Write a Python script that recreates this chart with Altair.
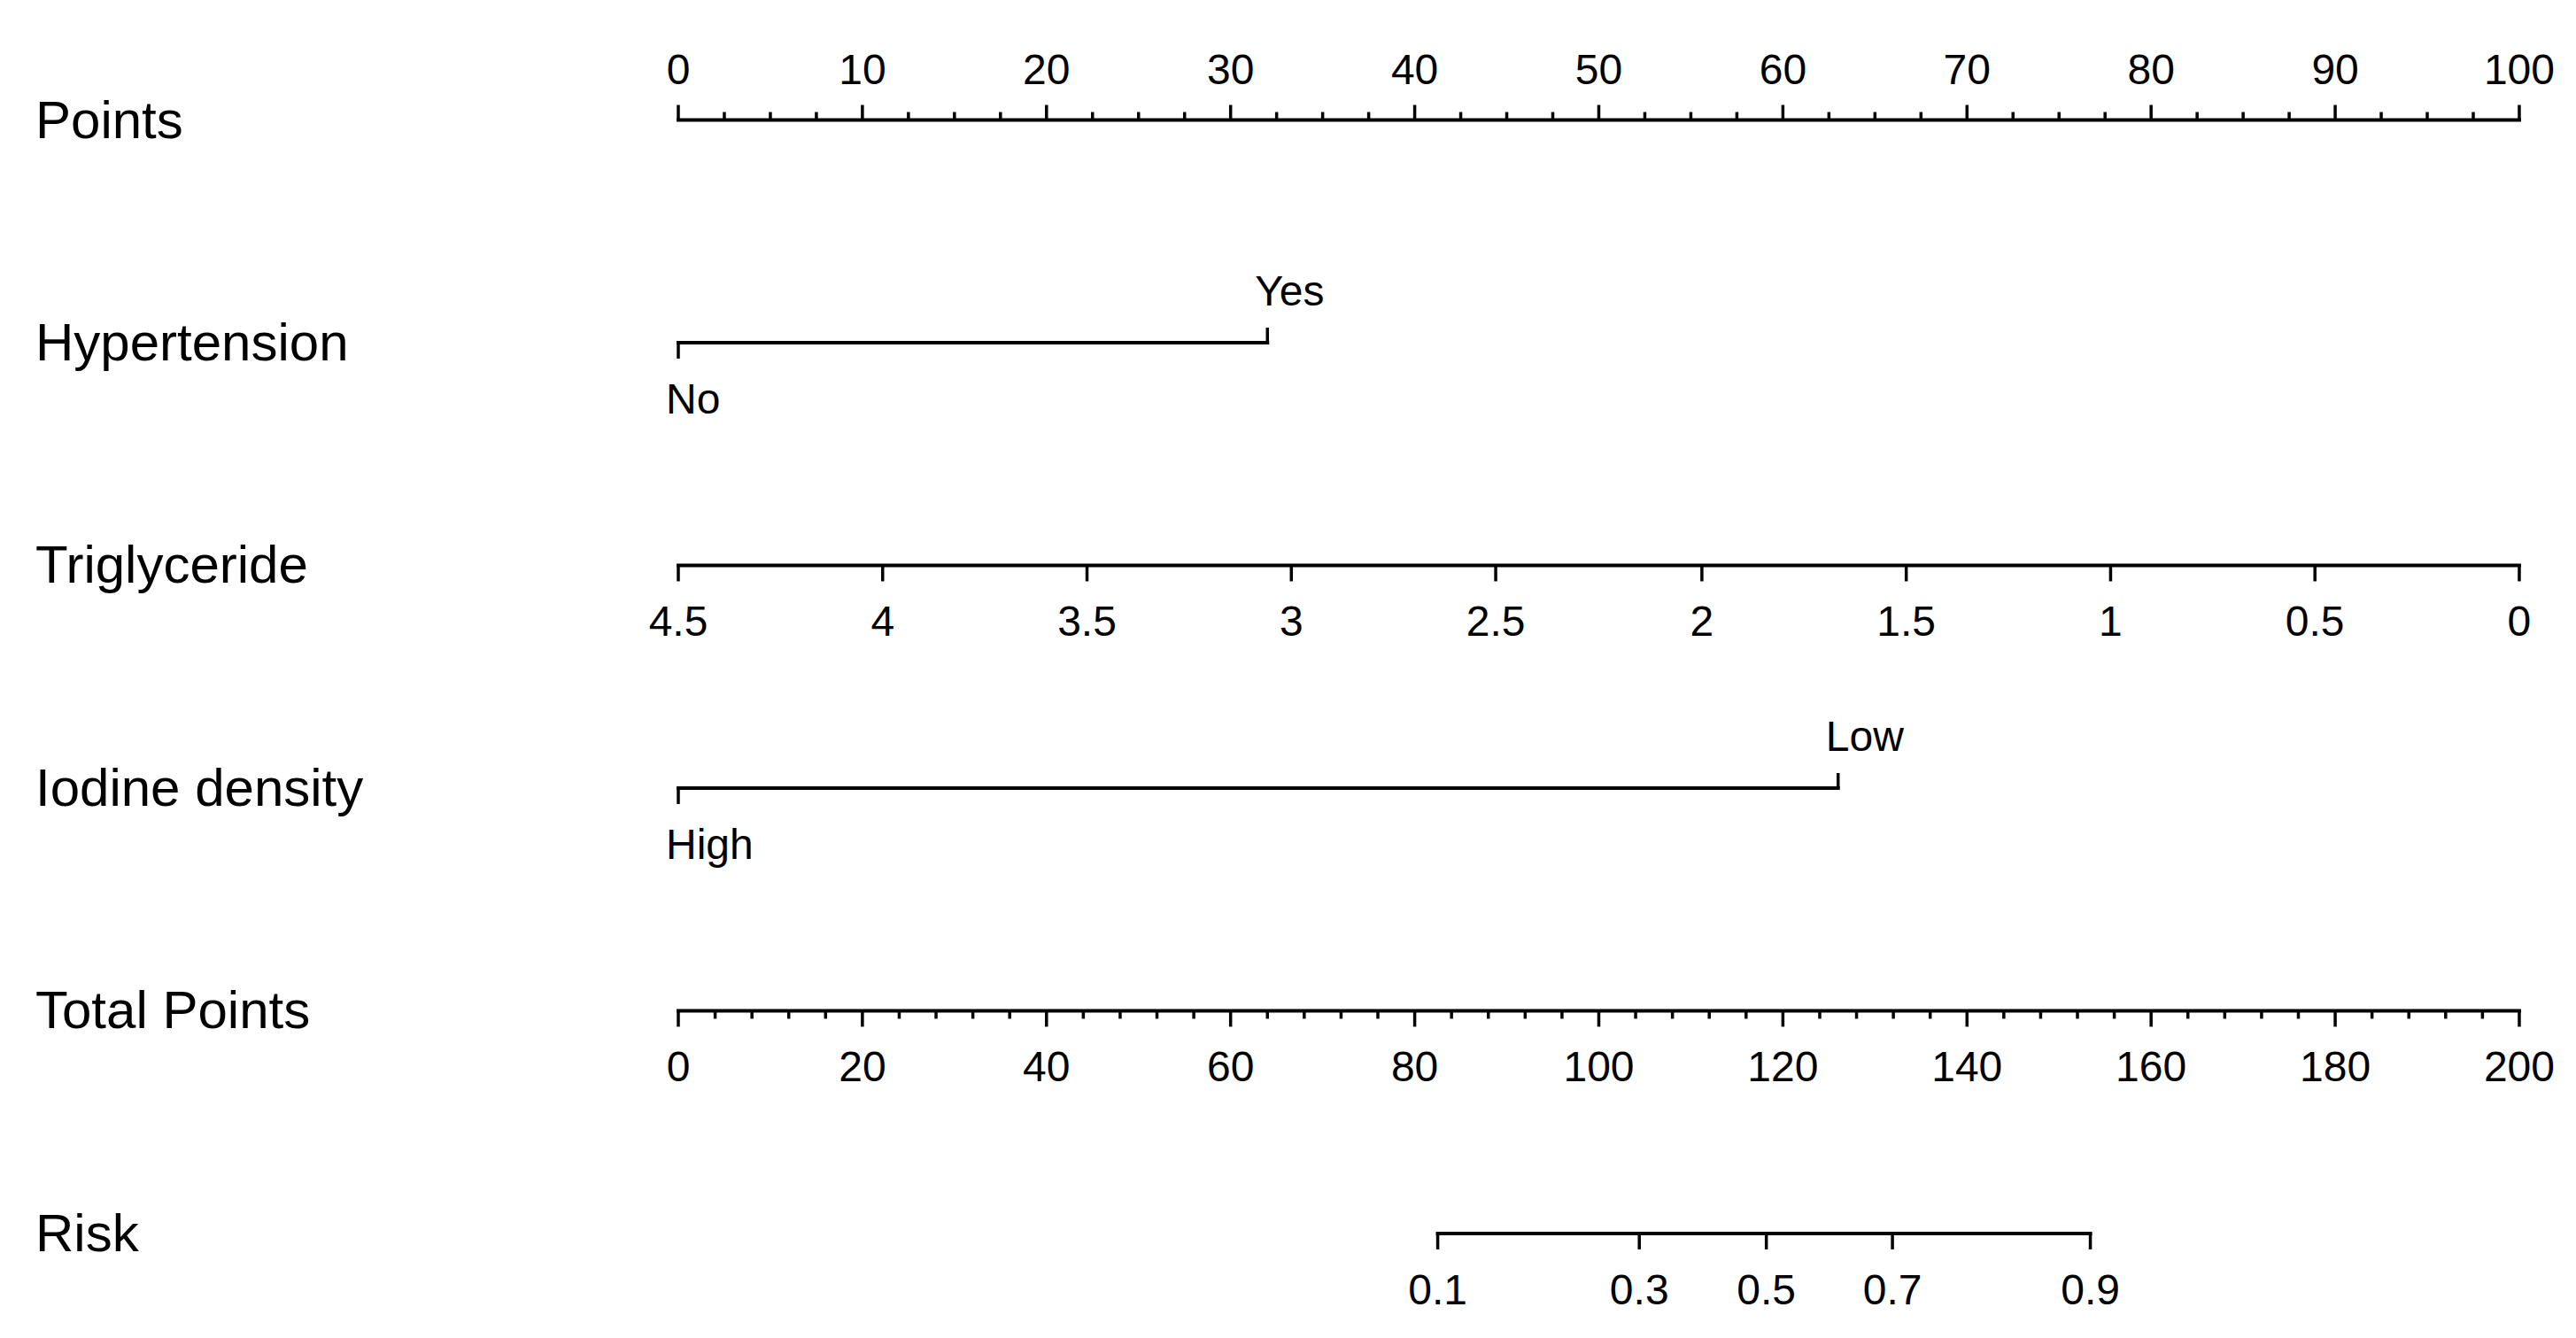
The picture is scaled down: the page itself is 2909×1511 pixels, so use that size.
import altair as alt
import pandas as pd

# ---------------- data ----------------
row_names = ["Points", "Hypertension", "Triglyceride", "Iodine density", "Total Points", "Risk"]

points_major = [0, 10, 20, 30, 40, 50, 60, 70, 80, 90, 100]
points_minor_step = 2.5

hyp_levels = ["No", "Yes"]
hyp_points = [0, 32.0]
hyp_dirs = ["down", "up"]

trig_labels = ["4.5", "4", "3.5", "3", "2.5", "2", "1.5", "1", "0.5", "0"]
trig_points = [0, 11.1, 22.2, 33.3, 44.4, 55.6, 66.7, 77.8, 88.9, 100]

iodine_levels = ["High", "Low"]
iodine_points = [0, 63.0]
iodine_dirs = ["down", "up"]

total_major = [0, 20, 40, 60, 80, 100, 120, 140, 160, 180, 200]
total_minor_step = 4
total_max = 200

risk_labels = ["0.1", "0.3", "0.5", "0.7", "0.9"]
risk_total = [82.5, 104.4, 118.2, 131.9, 153.4]

# ---------------- build tables ----------------
to_pts = 100.0 / total_max  # total points -> points scale

hlines = pd.DataFrame([
    {"row": 0, "x": 0, "x2": 100},
    {"row": 1, "x": min(hyp_points), "x2": max(hyp_points)},
    {"row": 2, "x": min(trig_points), "x2": max(trig_points)},
    {"row": 3, "x": min(iodine_points), "x2": max(iodine_points)},
    {"row": 4, "x": 0, "x2": total_max * to_pts},
    {"row": 5, "x": min(risk_total) * to_pts, "x2": max(risk_total) * to_pts},
])

ticks = []
for v in points_major:
    ticks.append({"row": 0, "x": v, "kind": "up_major"})
n = int(100 / points_minor_step)
for i in range(n + 1):
    v = i * points_minor_step
    if v not in points_major:
        ticks.append({"row": 0, "x": v, "kind": "up_minor"})
for v, d in zip(hyp_points, hyp_dirs):
    ticks.append({"row": 1, "x": v, "kind": d + "_major"})
for v in trig_points:
    ticks.append({"row": 2, "x": v, "kind": "down_major"})
for v, d in zip(iodine_points, iodine_dirs):
    ticks.append({"row": 3, "x": v, "kind": d + "_major"})
for v in total_major:
    ticks.append({"row": 4, "x": v * to_pts, "kind": "down_major"})
for i in range(int(total_max / total_minor_step) + 1):
    v = i * total_minor_step
    if v not in total_major:
        ticks.append({"row": 4, "x": v * to_pts, "kind": "down_minor"})
for v in risk_total:
    ticks.append({"row": 5, "x": v * to_pts, "kind": "down_major"})
ticks = pd.DataFrame(ticks)

texts = []
for v in points_major:
    texts.append({"row": 0, "x": v, "label": str(v), "kind": "above_center"})
for lab, v, d in zip(hyp_levels, hyp_points, hyp_dirs):
    texts.append({"row": 1, "x": v, "label": lab, "kind": ("above" if d == "up" else "below") + "_left"})
for lab, v in zip(trig_labels, trig_points):
    texts.append({"row": 2, "x": v, "label": lab, "kind": "below_center"})
for lab, v, d in zip(iodine_levels, iodine_points, iodine_dirs):
    texts.append({"row": 3, "x": v, "label": lab, "kind": ("above" if d == "up" else "below") + "_left"})
for v in total_major:
    texts.append({"row": 4, "x": v * to_pts, "label": str(v), "kind": "below_center"})
for lab, v in zip(risk_labels, risk_total):
    texts.append({"row": 5, "x": v * to_pts, "label": lab, "kind": "below_center"})
texts = pd.DataFrame(texts)

row_df = pd.DataFrame({"row": list(range(len(row_names))), "label": row_names})

# ---------------- scales ----------------
W, H = 2880, 1480
X = alt.Scale(domain=[-36.46, 102.07], nice=False, zero=False)
Y = alt.Scale(domain=[-0.507, 5.378], nice=False, zero=False, reverse=True)
FONT = "Liberation Sans"

def xq():
    return alt.X("x:Q", scale=X, axis=None)

def yq():
    return alt.Y("row:Q", scale=Y, axis=None)

lines = alt.Chart(hlines).mark_rule(color="black", strokeWidth=4, strokeCap="square").encode(
    x=xq(), x2="x2:Q", y=yq()
)

tick_specs = {"up_major": -17, "up_minor": -9, "down_major": 18, "down_minor": 9}
tick_layers = []
for kind, off in tick_specs.items():
    sub = ticks[ticks["kind"] == kind]
    if len(sub) == 0:
        continue
    tick_layers.append(
        alt.Chart(sub).mark_rule(color="black", strokeWidth=3.5, y2Offset=off).encode(
            x=xq(), y=yq(), y2=alt.Y2("row:Q")
        )
    )

text_specs = {
    "above_center": dict(align="center", dy=-41, dx=0),
    "below_center": dict(align="center", dy=80, dx=0),
    "above_left": dict(align="left", dy=-42, dx=-14),
    "below_left": dict(align="left", dy=80, dx=-14),
}
text_layers = []
for kind, spec in text_specs.items():
    sub = texts[texts["kind"] == kind]
    if len(sub) == 0:
        continue
    text_layers.append(
        alt.Chart(sub).mark_text(
            font=FONT, fontSize=48, color="black", baseline="alphabetic", **spec
        ).encode(x=xq(), y=yq(), text="label:N")
    )

row_labels = alt.Chart(row_df).mark_text(
    font=FONT, fontSize=60, color="black", align="left", baseline="middle", dy=2
).encode(x=alt.value(32), y=yq(), text="label:N")

chart = alt.layer(lines, *tick_layers, *text_layers, row_labels).properties(
    width=W, height=H, padding=0, autosize=alt.AutoSizeParams(type="none"), background="white"
).configure_view(stroke=None)

chart.save("out.html", embed_options={"renderer": "svg", "actions": False})
